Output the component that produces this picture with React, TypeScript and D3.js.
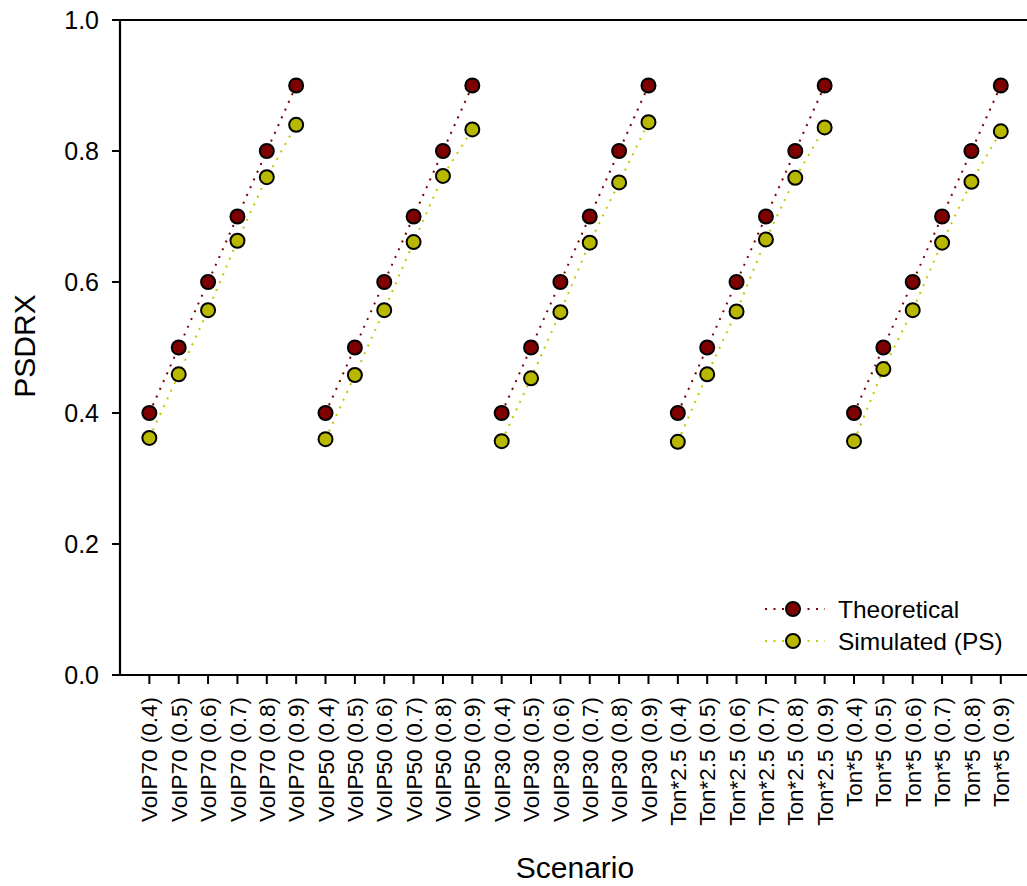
import React from "react";
import * as d3 from "d3";

const groups = ["VoIP70", "VoIP50", "VoIP30", "Ton*2.5", "Ton*5"];
const loads = ["0.4", "0.5", "0.6", "0.7", "0.8", "0.9"];
const categories = groups.flatMap((g) => loads.map((l) => `${g} (${l})`));

const theoretical = [
  [0.4, 0.5, 0.6, 0.7, 0.8, 0.9],
  [0.4, 0.5, 0.6, 0.7, 0.8, 0.9],
  [0.4, 0.5, 0.6, 0.7, 0.8, 0.9],
  [0.4, 0.5, 0.6, 0.7, 0.8, 0.9],
  [0.4, 0.5, 0.6, 0.7, 0.8, 0.9],
];
const simulated = [
  [0.362, 0.459, 0.557, 0.663, 0.760, 0.840],
  [0.360, 0.458, 0.557, 0.661, 0.762, 0.833],
  [0.357, 0.453, 0.554, 0.660, 0.752, 0.844],
  [0.356, 0.459, 0.555, 0.665, 0.759, 0.836],
  [0.357, 0.467, 0.557, 0.660, 0.753, 0.830],
];
const yTicks = [0.0, 0.2, 0.4, 0.6, 0.8, 1.0];
const seriesNames = ["Theoretical", "Simulated (PS)"];

const W = 1027;
const H = 886;
const left = 120;
const top = 20;
const bottom = 675;
const FONT = "Arial, 'Liberation Sans', sans-serif";
const theoColor = "#7f0000";
const simFill = "#b8b800";
const simLine = "#c4c800";

export default function App() {
  const x = d3.scaleLinear().domain([-1, 30]).range([left, left + 31 * 29.36]);
  const y = d3.scaleLinear().domain([0, 1]).range([bottom, top]);
  const line = d3
    .line<{ i: number; v: number }>()
    .x((d) => x(d.i))
    .y((d) => y(d.v));

  const series = [
    { name: seriesNames[0], data: theoretical, fill: theoColor, line: theoColor },
    { name: seriesNames[1], data: simulated, fill: simFill, line: simLine },
  ];

  return (
    <svg
      width={W}
      height={H}
      style={{ position: "absolute", left: 0, top: 0, background: "#fff" }}
      fontFamily={FONT}
    >
      {/* axes */}
      <line x1={left} x2={W} y1={top} y2={top} stroke="#000" strokeWidth={2.2} />
      <line x1={left} x2={W} y1={bottom} y2={bottom} stroke="#000" strokeWidth={2.2} />
      <line x1={left} x2={left} y1={top - 1} y2={bottom + 1} stroke="#000" strokeWidth={2.2} />

      {yTicks.map((t) => (
        <g key={t}>
          <line x1={left - 8} x2={left} y1={y(t)} y2={y(t)} stroke="#000" strokeWidth={2} />
          <text x={99} y={y(t)} dy="0.35em" textAnchor="end" fontSize={25} fill="#000">
            {t.toFixed(1)}
          </text>
        </g>
      ))}

      {categories.map((c, i) => (
        <g key={c}>
          <line x1={x(i)} x2={x(i)} y1={bottom} y2={bottom + 9} stroke="#000" strokeWidth={2} />
          <text
            transform={`translate(${x(i)},${bottom + 22}) rotate(-90)`}
            dy="0.36em"
            textAnchor="end"
            fontSize={22.5}
            fill="#000"
          >
            {c}
          </text>
        </g>
      ))}

      <text x={575} y={878} textAnchor="middle" fontSize={30} fill="#000">
        Scenario
      </text>
      <text
        transform={`translate(35,346) rotate(-90)`}
        textAnchor="middle"
        fontSize={30}
        fill="#000"
      >
        PSDRX
      </text>

      {/* lines */}
      {series.map((s) =>
        s.data.map((grp, g) => (
          <path
            key={s.name + g}
            d={line(grp.map((v, k) => ({ i: g * 6 + k, v })))!}
            fill="none"
            stroke={s.line}
            strokeWidth={2}
            strokeDasharray="2,6.5"
          />
        ))
      )}
      {/* markers */}
      {series.map((s) =>
        s.data.flatMap((grp, g) =>
          grp.map((v, k) => (
            <circle
              key={s.name + g + "-" + k}
              cx={x(g * 6 + k)}
              cy={y(v)}
              r={7}
              fill={s.fill}
              stroke="#000"
              strokeWidth={2}
            />
          ))
        )
      )}

      {/* legend */}
      {series.map((s, j) => {
        const ly = 609 + j * 32;
        return (
          <g key={s.name}>
            <line x1={765} x2={825} y1={ly} y2={ly} stroke={s.line} strokeWidth={2} strokeDasharray="2,6.5" />
            <circle cx={793} cy={ly} r={7} fill={s.fill} stroke="#000" strokeWidth={2} />
            <text x={838} y={ly} dy="0.35em" fontSize={24.5} fill="#000">
              {s.name}
            </text>
          </g>
        );
      })}
    </svg>
  );
}
